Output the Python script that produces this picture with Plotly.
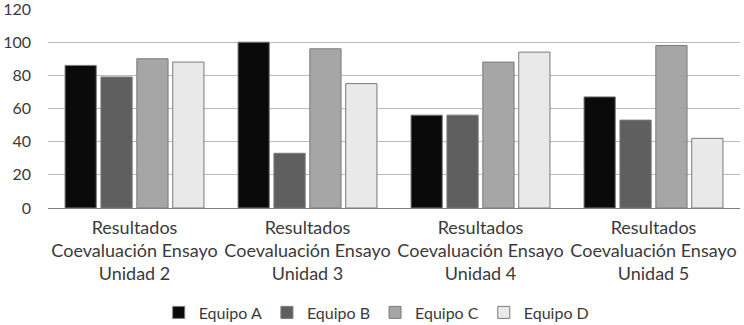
import plotly.graph_objects as go

categories = [
    "Resultados<br>Coevaluación Ensayo<br>Unidad 2",
    "Resultados<br>Coevaluación Ensayo<br>Unidad 3",
    "Resultados<br>Coevaluación Ensayo<br>Unidad 4",
    "Resultados<br>Coevaluación Ensayo<br>Unidad 5",
]
series_names = ["Equipo A", "Equipo B", "Equipo C", "Equipo D"]
equipo_a = [86, 100, 56, 67]
equipo_b = [79, 33, 56, 53]
equipo_c = [90, 96, 88, 98]
equipo_d = [88, 75, 94, 42]
y_ticks = [0, 20, 40, 60, 80, 100, 120]

values = [equipo_a, equipo_b, equipo_c, equipo_d]
colors = ["#0a0a0a", "#5f5f5f", "#a6a6a6", "#e9e9e9"]

fig = go.Figure()
for name, vals, col in zip(series_names, values, colors):
    fig.add_trace(go.Bar(
        x=categories, y=vals, name=name,
        marker=dict(color=col, line=dict(color="#7a7a7a", width=1)),
    ))

font_family = "Lato, 'Open Sans', sans-serif"
fig.update_layout(
    width=744, height=325,
    margin=dict(l=48, r=4, t=9, b=117, autoexpand=False),
    plot_bgcolor="white", paper_bgcolor="white",
    barmode="group", bargap=0.17, bargroupgap=0.13,
    font=dict(family=font_family, size=15, color="#3a3a3a"),
    showlegend=True,
    legend=dict(orientation="h", x=0.475, xanchor="center", y=-0.525, yanchor="middle",
                font=dict(size=16, color="#3a3a3a"), traceorder="normal",
                itemwidth=30),
    xaxis=dict(showline=True, linecolor="#808080", linewidth=1, ticks="",
               automargin=False, ticklabelstandoff=3,
               tickfont=dict(size=18, color="#3a3a3a")),
    yaxis=dict(range=[0, 120], tickvals=y_ticks, showgrid=True, gridcolor="#bcbcbc",
               gridwidth=1, zeroline=False, ticks="", showline=False,
               automargin=False, ticklabelstandoff=16, ticklabeloverflow="allow",
               tickfont=dict(size=16, color="#3a3a3a")),
)
fig.write_html("out.html", config={"displayModeBar": False},
               post_script="document.body.style.margin='0';")
